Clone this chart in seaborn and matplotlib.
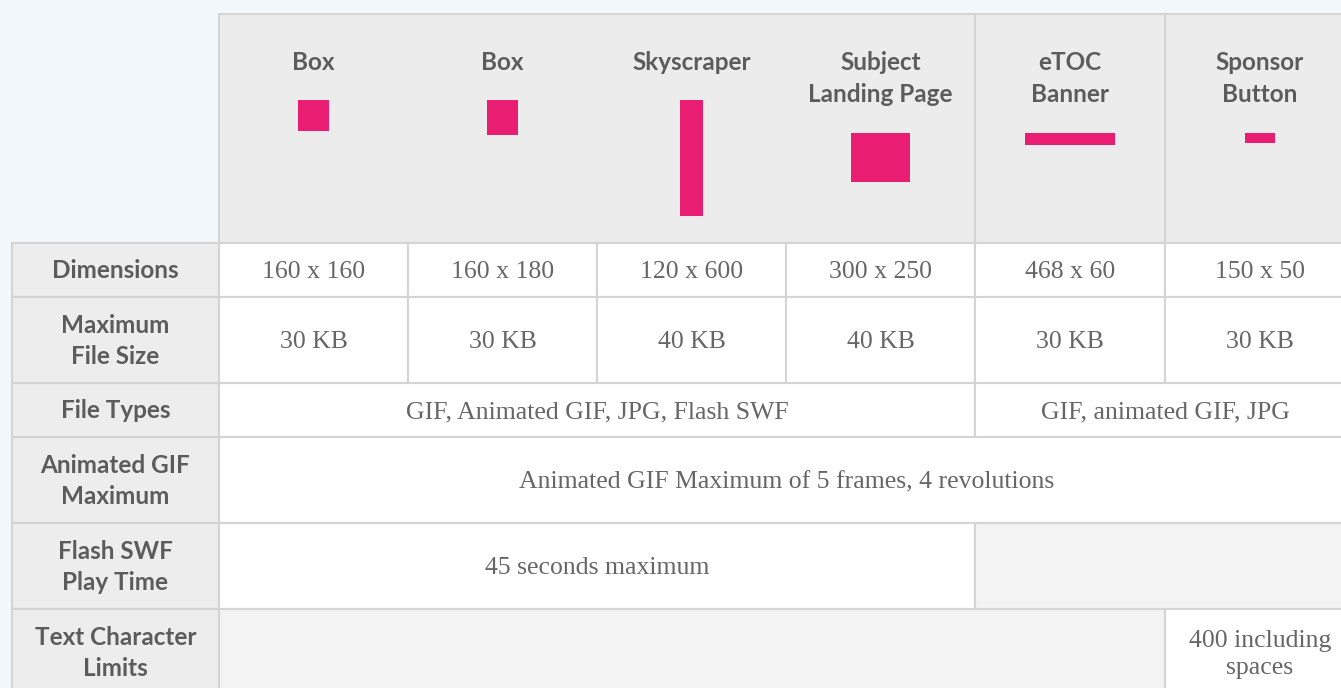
import numpy as np
import pandas as pd
import matplotlib.pyplot as plt
import seaborn as sns
from matplotlib.patches import Rectangle

# Spec table of the ad formats
formats = ["Box", "Box", "Skyscraper", "Subject\nLanding Page", "eTOC\nBanner", "Sponsor\nButton"]
ad_w = [160, 160, 120, 300, 468, 150]
ad_h = [160, 180, 600, 250, 60, 50]
dims = ["160 x 160", "160 x 180", "120 x 600", "300 x 250", "468 x 60", "150 x 50"]
sizes = ["30 KB", "30 KB", "40 KB", "40 KB", "30 KB", "30 KB"]
row_labels = ["Dimensions", "Maximum\nFile Size", "File Types",
              "Animated GIF\nMaximum", "Flash SWF\nPlay Time", "Text Character\nLimits"]
file_types = ["GIF, Animated GIF, JPG, Flash SWF", "GIF, animated GIF, JPG"]
gif_max = "Animated GIF Maximum of 5 frames, 4 revolutions"
swf_time = "45 seconds maximum"
text_limit = "400 including\nspaces"

# row, first col, last col, text (None = empty gray cell)
spans = [(0, i, i, t) for i, t in enumerate(dims)]
spans += [(1, i, i, t) for i, t in enumerate(sizes)]
spans += [(2, 0, 3, file_types[0]), (2, 4, 5, file_types[1]),
          (3, 0, 5, gif_max),
          (4, 0, 3, swf_time), (4, 4, 5, None),
          (5, 0, 4, None), (5, 5, 5, text_limit)]

sns.set_theme(style="white")

BG = "#f3f8fc"
HEAD = "#ececec"
LABEL = "#ededed"
EMPTY = "#f3f3f3"
LINE = "#d4d4d4"
PINK = "#e91e73"
HEAD_TXT = "#5c5c5c"
CELL_TXT = "#666666"

col_edges = [219, 408, 597, 786, 975, 1165, 1355]
row_edges = [243, 297, 383, 437, 523, 609, 695]
lab_x0 = 12
head_y0 = 14
scale = 0.194

fig = plt.figure(figsize=(13.41, 6.88), dpi=100, facecolor=BG)
ax = fig.add_axes([0, 0, 1, 1])
ax.set_xlim(0, 1341)
ax.set_ylim(688, 0)
ax.axis("off")
ax.set_facecolor(BG)

head_font = dict(family=["Lato", "DejaVu Sans"], fontweight="bold", fontsize=17.5, color=HEAD_TXT)
cell_font = dict(family=["Liberation Serif", "DejaVu Serif"], fontsize=18.5, color=CELL_TXT)

# header block
ax.add_patch(Rectangle((col_edges[0], head_y0), col_edges[-1] - col_edges[0], row_edges[0] - head_y0,
                       facecolor=HEAD, edgecolor=LINE, lw=1.5))
for x in [975, 1165]:
    ax.plot([x, x], [head_y0, row_edges[0]], color=LINE, lw=1.5)

centers = [(col_edges[i] + col_edges[i + 1]) / 2 for i in range(6)]
for c, name in zip(centers, formats):
    ax.text(c, 51, name, ha="center", va="top", linespacing=1.45, **head_font)

n_lines = np.array([f.count("\n") + 1 for f in formats])
tops = 100 + 33 * (n_lines - 1)
ax.bar(centers, np.array(ad_h) * scale, width=np.array(ad_w) * scale, bottom=tops,
       color=PINK, linewidth=0)

# row labels
for r, lab in enumerate(row_labels):
    y0, y1 = row_edges[r], row_edges[r + 1]
    ax.add_patch(Rectangle((lab_x0, y0), col_edges[0] - lab_x0, y1 - y0,
                           facecolor=LABEL, edgecolor=LINE, lw=1.5))
    ax.text((lab_x0 + col_edges[0]) / 2, (y0 + y1) / 2 + 1, lab, ha="center", va="center",
            linespacing=1.45, **head_font)

# body cells
for r, c0, c1, txt in spans:
    x0, x1 = col_edges[c0], col_edges[c1 + 1]
    y0, y1 = row_edges[r], row_edges[r + 1]
    ax.add_patch(Rectangle((x0, y0), x1 - x0, y1 - y0,
                           facecolor="white" if txt else EMPTY, edgecolor=LINE, lw=1.5))
    if txt:
        ax.text((x0 + x1) / 2, (y0 + y1) / 2 + 2.5, txt, ha="center", va="center",
                linespacing=1.3, **cell_font)

fig.savefig("out.png", dpi=100, facecolor=BG)
